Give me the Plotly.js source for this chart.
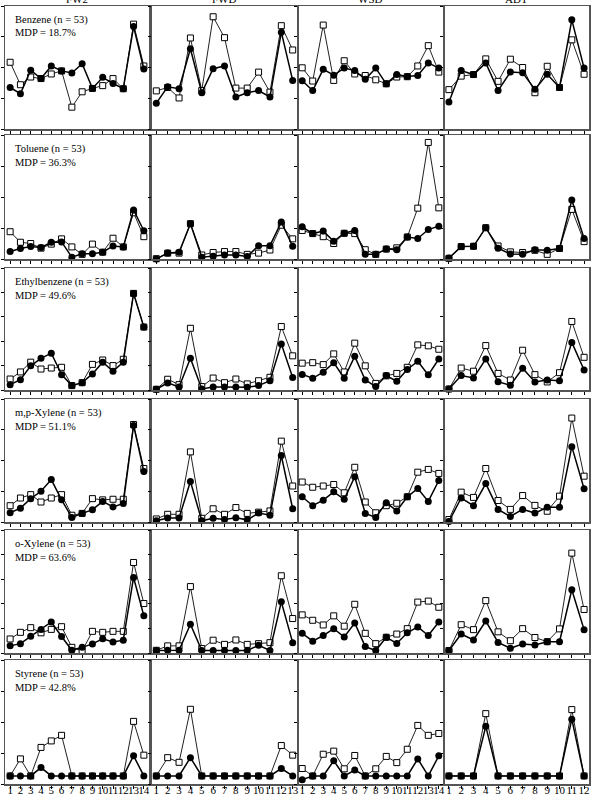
<!DOCTYPE html>
<html>
<head>
<meta charset="utf-8">
<script src="https://cdn.plot.ly/plotly-3.0.1.min.js"></script>
<style>
html,body{margin:0;padding:0;overflow:hidden;background:#fff;width:596px;height:796px;}
#plot{position:absolute;left:-40px;top:-14px;width:636px;height:830px;}
</style>
</head>
<body>
<div id="plot"></div>
<script>
// ---- data ----
const sites = ["FW2", "FWD", "WSD", "ADT"];
const compounds = ["Benzene", "Toluene", "Ethylbenzene", "m,p-Xylene", "o-Xylene", "Styrene"];
const sampleCounts = [53, 53, 53, 53, 53, 53];
const mdp = ["18.7%", "36.3%", "49.6%", "51.1%", "63.6%", "42.8%"];
const pointsPerSite = [14, 13, 14, 12];
const yTickMax = [4, 4, 5, 4, 5, 4];

const benzeneFilled = [
  [1.35,1.15,1.91,1.64,2.05,1.89,1.82,2.12,1.32,1.68,1.48,1.31,3.33,1.95],
  [0.84,1.37,1.31,2.61,1.18,1.96,2.05,1.04,1.18,1.25,1.04,3.15,1.58],
  [1.57,1.25,1.94,1.75,1.98,1.90,1.62,1.98,1.47,1.77,1.71,1.74,2.15,1.98],
  [0.88,1.90,1.77,2.15,1.25,1.85,1.83,1.29,1.78,1.35,3.55,1.98]
];
const benzeneOpen = [
  [2.17,1.44,1.69,1.64,1.79,1.89,0.71,1.21,1.32,1.41,1.64,1.31,3.41,2.05],
  [1.24,1.35,1.01,2.96,1.25,3.65,2.97,1.33,1.33,1.85,1.20,3.36,2.57],
  [1.99,1.56,3.38,1.58,2.22,1.79,1.74,1.60,1.47,1.69,1.70,2.05,2.71,1.85],
  [1.28,1.72,1.77,2.28,1.55,2.27,2.00,1.18,2.04,1.35,2.90,1.78]
];
const tolueneFilled = [
  [0.24,0.34,0.40,0.37,0.54,0.55,0.06,0.17,0.17,0.22,0.42,0.39,1.58,0.91],
  [0.00,0.19,0.22,1.14,0.06,0.09,0.13,0.13,0.08,0.43,0.43,1.19,0.41],
  [1.04,0.82,0.90,0.57,0.83,0.92,0.15,0.15,0.32,0.30,0.71,0.66,0.95,1.06],
  [0.03,0.40,0.41,1.01,0.35,0.16,0.15,0.30,0.28,0.34,1.90,0.66]
];
const tolueneOpen = [
  [0.88,0.54,0.50,0.35,0.48,0.65,0.39,0.15,0.48,0.22,0.67,0.39,1.49,0.72],
  [0.01,0.19,0.19,1.14,0.13,0.21,0.24,0.24,0.15,0.19,0.29,1.09,0.65],
  [0.92,0.82,0.72,0.50,0.83,0.82,0.30,0.15,0.32,0.36,0.71,1.64,3.76,1.65],
  [0.02,0.40,0.41,1.01,0.42,0.23,0.21,0.28,0.15,0.34,1.60,0.56]
];
const ethylbenzeneFilled = [
  [0.22,0.42,0.99,1.30,1.51,0.63,0.18,0.30,0.66,1.14,0.77,1.14,3.96,2.58],
  [0.03,0.29,0.12,1.30,0.04,0.12,0.12,0.12,0.11,0.18,0.38,1.89,0.51],
  [0.64,0.48,0.73,1.12,0.48,1.38,0.41,0.14,0.59,0.36,0.84,1.18,0.62,1.27],
  [0.04,0.59,0.49,1.27,0.34,0.19,0.89,0.33,0.41,0.38,1.95,0.82]
];
const ethylbenzeneOpen = [
  [0.45,0.74,1.14,0.86,0.90,0.93,0.18,0.30,1.05,1.23,1.00,1.26,3.96,2.58],
  [0.03,0.44,0.22,2.53,0.14,0.49,0.30,0.45,0.25,0.38,0.52,2.60,1.40],
  [1.10,1.12,1.04,1.48,0.74,1.92,0.99,0.27,0.58,0.68,0.93,1.85,1.81,1.67],
  [0.04,0.90,0.77,1.82,0.68,0.41,1.63,0.63,0.33,0.71,2.81,1.34]
];
const mpXyleneFilled = [
  [0.30,0.45,0.76,1.00,1.38,0.72,0.15,0.28,0.40,0.67,0.49,0.60,3.14,1.64],
  [0.04,0.13,0.13,1.32,0.04,0.12,0.08,0.14,0.07,0.29,0.22,2.16,0.43],
  [0.82,0.53,0.71,0.98,0.74,1.47,0.28,0.15,0.63,0.36,0.82,1.09,0.67,1.35],
  [0.02,0.78,0.53,1.25,0.41,0.18,0.41,0.29,0.48,0.48,2.45,1.08]
];
const mpXyleneOpen = [
  [0.53,0.78,0.89,0.65,0.78,0.89,0.22,0.28,0.76,0.72,0.74,0.74,3.17,1.74],
  [0.10,0.25,0.25,2.28,0.12,0.43,0.25,0.47,0.28,0.32,0.36,2.63,1.17],
  [1.30,1.13,1.17,1.22,0.95,1.78,0.65,0.30,0.53,0.61,0.82,1.62,1.71,1.58],
  [0.08,0.97,0.80,1.74,0.70,0.41,0.86,0.54,0.35,0.84,3.38,1.49]
];
const oXyleneFilled = [
  [0.29,0.38,0.68,0.96,1.26,0.67,0.11,0.23,0.37,0.58,0.45,0.52,3.07,1.51],
  [0.10,0.11,0.11,1.17,0.10,0.10,0.10,0.10,0.10,0.31,0.10,2.08,0.42],
  [0.80,0.48,0.71,0.99,0.65,1.22,0.26,0.10,0.64,0.39,0.82,1.06,0.71,1.26],
  [0.10,0.77,0.53,1.30,0.43,0.19,0.37,0.33,0.46,0.46,2.57,0.95]
];
const oXyleneOpen = [
  [0.57,0.84,1.03,0.82,0.96,1.07,0.23,0.08,0.88,0.84,0.88,0.88,3.68,2.01],
  [0.11,0.29,0.29,2.70,0.18,0.52,0.35,0.53,0.35,0.38,0.42,3.14,1.40],
  [1.55,1.33,1.14,1.51,1.09,1.98,0.80,0.38,0.64,0.77,0.99,2.07,2.11,1.86],
  [0.10,1.15,0.95,2.13,0.86,0.50,0.99,0.63,0.46,0.98,4.06,1.77]
];
const styreneFilled = [
  [0.26,0.26,0.26,0.53,0.26,0.26,0.26,0.26,0.26,0.26,0.26,0.26,0.91,0.26],
  [0.26,0.26,0.26,0.85,0.26,0.26,0.26,0.26,0.26,0.26,0.26,0.50,0.26],
  [0.14,0.26,0.26,0.75,0.26,0.45,0.26,0.26,0.26,0.26,0.26,0.81,0.26,0.91],
  [0.26,0.26,0.26,1.86,0.26,0.26,0.26,0.26,0.26,0.26,2.09,0.26]
];
const styreneOpen = [
  [0.26,0.81,0.26,1.18,1.39,1.57,0.26,0.26,0.26,0.26,0.26,0.26,2.02,0.93],
  [0.26,0.85,0.70,2.41,0.26,0.26,0.26,0.26,0.26,0.26,0.26,1.24,0.93],
  [0.50,0.26,0.96,1.06,0.49,0.92,0.26,0.49,0.89,0.69,1.12,1.89,1.57,1.63],
  [0.26,0.26,0.26,2.27,0.26,0.26,0.26,0.26,0.26,0.26,2.40,0.26]
];

const filledSeries = [benzeneFilled, tolueneFilled, ethylbenzeneFilled, mpXyleneFilled, oXyleneFilled, styreneFilled];
const openSeries = [benzeneOpen, tolueneOpen, ethylbenzeneOpen, mpXyleneOpen, oXyleneOpen, styreneOpen];

// ---- layout geometry (page pixels) ----
const W = 636, H = 830, OX = 40, OY = 14;
const colPx = [[5,149],[152,297],[298,443],[444,589]];
const rowPx = [[6,129],[135,259],[268,390],[399,522],[530,653],[660,784]];
const xRanges = [[0.5,14.5],[0.62,13.38],[0.6,14.4],[0.6,12.4]];
const px2x = x => (x + OX) / W;
const px2y = y => 1 - (y + OY) / H;

const FONT = "'Liberation Serif', 'Times New Roman', serif";
const frame = "#555";

const traces = [];
const layout = {
  width: W, height: H,
  margin: {l:0, r:0, t:0, b:0},
  paper_bgcolor: "#fff", plot_bgcolor: "#fff",
  showlegend: false,
  font: {family: FONT, color: "#000", size: 11},
  annotations: []
};

for (let r = 0; r < 6; r++) {
  for (let c = 0; c < 4; c++) {
    const idx = r * 4 + c + 1;
    const xk = "xaxis" + (idx === 1 ? "" : idx);
    const yk = "yaxis" + (idx === 1 ? "" : idx);
    const xa = "x" + (idx === 1 ? "" : idx);
    const ya = "y" + (idx === 1 ? "" : idx);
    const n = pointsPerSite[c];
    const xs = Array.from({length: n}, (_, i) => i + 1);
    layout[xk] = {
      domain: [px2x(colPx[c][0]), px2x(colPx[c][1])],
      range: xRanges[c], anchor: ya,
      tickmode: "array", tickvals: xs, ticktext: xs.map(String),
      ticks: "outside", ticklen: 3, tickwidth: 1, tickcolor: "#000",
      showticklabels: r === 5,
      tickangle: 0,
      tickfont: {family: FONT, size: 11, color: "#000"},
      ticklabelstandoff: -8,
      showline: true, mirror: true, linecolor: frame, linewidth: 1.5,
      showgrid: false, zeroline: false, fixedrange: true
    };
    const ym = yTickMax[r];
    const yt = Array.from({length: ym + 1}, (_, i) => i);
    layout[yk] = {
      domain: [px2y(rowPx[r][1]), px2y(rowPx[r][0])],
      range: [0, ym], anchor: xa,
      tickmode: "array", tickvals: yt,
      ticktext: yt.map(v => (r > 0 && v === ym) ? "" : String(v * 5)),
      ticks: "outside", ticklen: 3, tickwidth: 1, tickcolor: "#000",
      showticklabels: c === 0,
      tickfont: {family: FONT, size: 11, color: "#000"},
      showline: true, mirror: true, linecolor: frame, linewidth: 1.5,
      showgrid: false, zeroline: false, fixedrange: true
    };
    traces.push({
      type: "scatter", mode: "lines+markers", xaxis: xa, yaxis: ya,
      x: xs, y: openSeries[r][c],
      line: {color: "#222", width: 1},
      marker: {symbol: "square", size: 6, color: "#fff", line: {color: "#000", width: 1}},
      cliponaxis: false
    });
    traces.push({
      type: "scatter", mode: "lines+markers", xaxis: xa, yaxis: ya,
      x: xs, y: filledSeries[r][c],
      line: {color: "#000", width: 1.5},
      marker: {symbol: "circle", size: 7, color: "#000"},
      cliponaxis: false
    });
  }
  layout.annotations.push({
    xref: "paper", yref: "paper", x: px2x(13), y: px2y(rowPx[r][0] + 14),
    xanchor: "left", yanchor: "middle", showarrow: false,
    text: compounds[r] + " (n = " + sampleCounts[r] + ")",
    font: {family: FONT, size: 10.5, color: "#000"}
  });
  layout.annotations.push({
    xref: "paper", yref: "paper", x: px2x(13), y: px2y(rowPx[r][0] + 27),
    xanchor: "left", yanchor: "middle", showarrow: false,
    text: "MDP = " + mdp[r],
    font: {family: FONT, size: 10.5, color: "#000"}
  });
}
for (let c = 0; c < 4; c++) {
  layout.annotations.push({
    xref: "paper", yref: "paper",
    x: px2x((colPx[c][0] + colPx[c][1]) / 2), y: px2y(7),
    xanchor: "center", yanchor: "bottom", showarrow: false,
    text: sites[c], font: {family: FONT, size: 11, color: "#000"}
  });
}

Plotly.newPlot("plot", traces, layout, {displayModeBar: false, staticPlot: true});
</script>
</body>
</html>
